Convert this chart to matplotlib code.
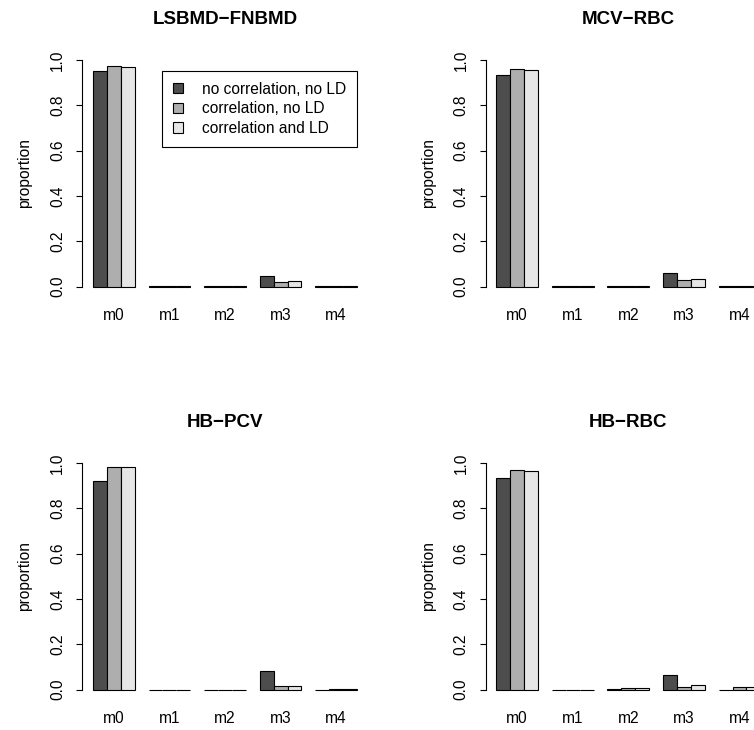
import numpy as np
import matplotlib
matplotlib.use('Agg')
import matplotlib.pyplot as plt
from matplotlib.patches import Patch

plt.rcParams['font.family'] = ['Liberation Sans', 'DejaVu Sans']

groups = ['m0', 'm1', 'm2', 'm3', 'm4']
series = ['no correlation, no LD', 'correlation, no LD', 'correlation and LD']
cols = ['#4D4D4D', '#AEAEAE', '#E6E6E6']

titles = ['LSBMD\u2212FNBMD', 'MCV\u2212RBC', 'HB\u2212PCV', 'HB\u2212RBC']

# proportions per panel: one list per scenario, values for m0..m4
lsbmd_nc = [0.950, 0.002, 0.001, 0.045, 0.002]
lsbmd_c = [0.973, 0.003, 0.001, 0.022, 0.001]
lsbmd_ld = [0.970, 0.003, 0.001, 0.024, 0.002]

mcv_nc = [0.935, 0.001, 0.001, 0.062, 0.001]
mcv_c = [0.960, 0.003, 0.003, 0.031, 0.003]
mcv_ld = [0.957, 0.003, 0.003, 0.033, 0.004]

pcv_nc = [0.920, 0.000, 0.000, 0.080, 0.000]
pcv_c = [0.982, 0.000, 0.000, 0.017, 0.001]
pcv_ld = [0.982, 0.000, 0.000, 0.014, 0.004]

rbc_nc = [0.935, 0.000, 0.001, 0.064, 0.000]
rbc_c = [0.970, 0.000, 0.005, 0.012, 0.013]
rbc_ld = [0.966, 0.000, 0.006, 0.019, 0.009]

panels = [(lsbmd_nc, lsbmd_c, lsbmd_ld),
          (mcv_nc, mcv_c, mcv_ld),
          (pcv_nc, pcv_c, pcv_ld),
          (rbc_nc, rbc_c, rbc_ld)]

W, H = 754, 730
fig = plt.figure(figsize=(W/100., H/100.), dpi=100)

# plot regions in pixels (left, top); right column runs off the page like the original
aw, ah = 285.2, 244.8
spots = [(82.4, 50.9), (485.7, 50.9), (82.4, 453.8), (485.7, 453.8)]

fs = 11.2
for k in range(4):
    l, t = spots[k]
    ax = fig.add_axes([l/W, 1-(t+ah)/H, aw/W, ah/H])
    for s in range(3):
        x = 1 + 4*np.arange(5) + s
        ax.bar(x, panels[k][s], width=1, align='edge', color=cols[s],
               edgecolor='black', linewidth=0.8)
    ax.set_xlim(0.24, 20.76)
    ax.set_ylim(-0.04, 1.04)
    for sp in ['top', 'right', 'bottom']:
        ax.spines[sp].set_visible(False)
    ax.spines['left'].set_bounds(0, 1)
    ax.spines['left'].set_linewidth(0.8)
    ax.set_yticks(np.arange(0, 1.01, 0.2))
    ax.set_yticklabels(['%.1f' % v for v in np.arange(0, 1.01, 0.2)],
                       rotation=90, va='center', fontsize=fs)
    ax.tick_params(axis='y', length=4.3, width=0.8, pad=8)
    ax.set_xticks(2.5 + 4*np.arange(5))
    ax.set_xticklabels(groups, fontsize=fs)
    ax.tick_params(axis='x', length=0, pad=9)
    ax.set_ylabel('proportion', fontsize=fs, labelpad=13)
    ax.text(0.5, 1 + 30.9/ah, titles[k], transform=ax.transAxes, ha='center',
            va='center', fontsize=13.5, fontweight='bold')
    if k == 0:
        hs = [Patch(facecolor=cols[s], edgecolor='black', linewidth=0.8) for s in range(3)]
        leg = ax.legend(hs, series, loc='upper right', fontsize=fs,
                        bbox_to_anchor=(356.7/W, 1-70.7/H), bbox_transform=fig.transFigure,
                        fancybox=False, edgecolor='black', framealpha=1,
                        handlelength=0.65, handleheight=0.65, handletextpad=1.2,
                        labelspacing=0.3, borderpad=0.7, borderaxespad=0)
        leg.get_frame().set_linewidth(0.8)

plt.savefig('out.png', dpi=100)
